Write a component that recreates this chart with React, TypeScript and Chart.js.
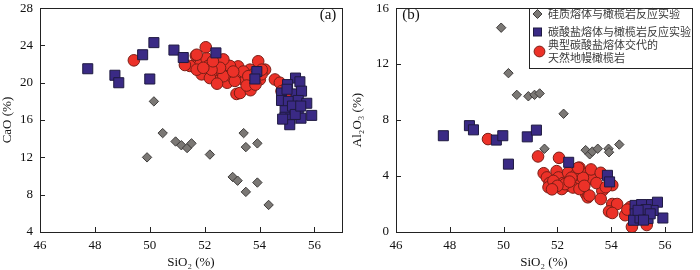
import React, { useEffect, useRef } from 'react';
import { Chart, registerables } from 'chart.js';

Chart.register(...registerables);

// ---------- Panel (a): SiO2 vs CaO ----------
const silicateA_SiO2 = [49.9, 50.15, 50.47, 50.94, 51.15, 51.36, 51.52, 52.19, 53.02, 53.2, 53.5, 53.92, 54.33, 53.42, 53.5, 53.92];
const silicateA_CaO = [12.0, 18.0, 14.6, 13.7, 13.3, 13.0, 13.5, 12.3, 9.9, 9.5, 8.3, 9.3, 6.9, 14.6, 13.1, 13.5];

const carbonatiteA_SiO2 = [47.74, 48.73, 48.87, 49.74, 50.15, 50.0, 50.88, 51.22, 52.41, 53.9, 53.83,
  55.31, 55.02, 55.47, 54.8, 55.33, 55.53, 54.8, 55.05, 55.41, 55.72, 54.93, 55.41, 55.9, 54.93, 55.11, 55.51, 55.1, 54.84, 55.2, 55.3, 55.5, 55.0];
const carbonatiteA_CaO = [21.5, 20.8, 20.0, 23.0, 24.3, 20.4, 23.5, 22.7, 23.2, 21.2, 20.4,
  20.5, 19.8, 20.1, 18.9, 18.8, 19.1, 18.1, 18.0, 18.1, 17.8, 17.0, 17.0, 16.5, 16.3, 16.1, 16.2, 15.5, 16.1, 17.5, 16.6, 17.5, 19.3];

const naturalA_SiO2 = [49.42, 52.04, 51.68, 51.58, 51.83, 52.07, 52.13, 52.01, 52.31, 52.5, 52.62, 52.8, 52.82, 52.98, 53.22, 53.29, 53.47, 53.65, 53.59, 53.95, 54.01, 54.2, 53.16, 53.29, 54.56, 54.74, 55.07, 51.46, 51.89, 52.19, 52.68, 52.92, 52.38, 53.1, 53.41, 52.68, 52.56, 52.25, 51.71, 51.95, 53.04, 53.77, 54.07, 53.59, 53.67, 53.53, 54.08, 51.28, 51.71, 52.3, 52.45, 53.85, 54.8];
const naturalA_CaO = [22.4, 23.8, 22.9, 21.8, 21.9, 22.6, 21.8, 21.1, 20.9, 20.2, 21.2, 21.9, 20.0, 20.7, 21.75, 20.7, 20.2, 21.4, 19.65, 22.3, 20.35, 21.4, 18.8, 18.9, 20.35, 20.0, 18.9, 21.8, 20.9, 20.5, 20.7, 21.8, 21.8, 20.2, 21.2, 22.5, 21.6, 21.4, 21.4, 21.6, 21.2, 20.9, 20.9, 20.7, 19.2, 19.7, 21.4, 21.9, 23.0, 22.3, 19.9, 19.8, 19.1];

// ---------- Panel (b): SiO2 vs Al2O3 ----------
const silicateB_SiO2 = [49.91, 50.18, 50.49, 50.92, 51.15, 51.34, 52.23, 51.52, 53.05, 53.2, 53.3, 53.5, 53.9, 53.92, 54.3];
const silicateB_Al2O3 = [14.6, 11.35, 9.8, 9.7, 9.8, 9.9, 8.45, 5.95, 5.85, 5.55, 5.75, 5.95, 5.95, 5.7, 6.25];

const carbonatiteB_SiO2 = [47.76, 48.73, 48.88, 49.73, 49.97, 50.88, 51.22, 50.18, 52.42, 53.86, 53.94,
  54.89, 55.13, 55.5, 55.72, 54.89, 55.19, 55.37, 54.83, 55.92, 55.56, 55.07, 55.3, 55.0, 55.45, 55.2];
const carbonatiteB_Al2O3 = [6.88, 7.6, 7.3, 6.57, 6.88, 6.8, 7.28, 4.85, 4.98, 4.05, 3.58,
  1.9, 1.96, 1.96, 2.13, 1.3, 1.19, 0.96, 0.84, 1.0, 1.54, 1.0, 1.6, 1.55, 1.3, 0.85];

const naturalB_SiO2 = [49.42, 51.28, 52.06, 51.49, 51.61, 51.71, 51.67, 51.97, 52.04, 52.22, 52.34, 52.58, 52.82, 52.82, 53.13, 53.31, 53.25, 53.61, 53.67, 53.07, 53.13, 53.61, 54.04, 54.04, 54.22, 53.92, 54.04, 54.52, 54.77, 55.32, 54.71, 52.4, 52.7, 52.95, 51.85, 52.16, 52.58, 52.82, 52.28, 52.52, 52.77, 53.19, 53.0, 52.0, 51.8, 52.45, 53.45, 53.8, 54.6];
const naturalB_Al2O3 = [6.64, 5.4, 5.3, 4.2, 3.9, 3.5, 3.2, 4.35, 3.9, 3.5, 3.3, 3.9, 4.6, 3.65, 4.23, 3.77, 4.47, 4.23, 2.95, 2.7, 2.48, 2.36, 3.35, 2.0, 2.0, 1.47, 1.36, 1.2, 0.37, 0.5, 1.78, 4.23, 4.12, 3.88, 3.65, 3.07, 3.18, 3.07, 3.42, 3.88, 4.58, 2.6, 3.3, 3.3, 3.05, 3.6, 3.5, 3.2, 1.6];

const legendLabels = ['硅质熔体与橄榄岩反应实验', '碳酸盐熔体与橄榄岩反应实验', '典型碳酸盐熔体交代的', '天然地幔橄榄岩'];
const xTitle = 'SiO₂ (%)';

const GRAY_FILL = '#7b7875';
const GRAY_EDGE = '#3e3c3b';
const BLUE_FILL = '#3a2a85';
const BLUE_EDGE = '#1f1a40';
const RED_FILL = '#ec3128';
const RED_EDGE = '#7a1e16';
const SERIF = '"Liberation Serif", "Times New Roman", serif';

const zip = (xs: number[], ys: number[]) => xs.map((x, i) => ({ x, y: ys[i] }));

const framePlugin = {
  id: 'frame',
  afterDraw(chart: any, _args: any, opts: any) {
    const { ctx, chartArea } = chart;
    const { left, right, top, bottom } = chartArea;
    ctx.save();
    ctx.strokeStyle = '#222';
    ctx.lineWidth = 1;
    ctx.strokeRect(Math.round(left) + 0.5, Math.round(top) + 0.5, Math.round(right - left), Math.round(bottom - top));
    const tl = 5;
    ctx.beginPath();
    chart.scales.x.ticks.forEach((t: any) => {
      const px = Math.round(chart.scales.x.getPixelForValue(t.value)) + 0.5;
      ctx.moveTo(px, bottom);
      ctx.lineTo(px, bottom - tl);
    });
    chart.scales.y.ticks.forEach((t: any) => {
      const py = Math.round(chart.scales.y.getPixelForValue(t.value)) + 0.5;
      ctx.moveTo(left, py);
      ctx.lineTo(left + tl, py);
    });
    ctx.stroke();
    // panel tag
    ctx.fillStyle = '#111';
    ctx.font = '15px ' + SERIF;
    ctx.textAlign = 'center';
    ctx.textBaseline = 'middle';
    ctx.fillText(opts.tag, opts.tagX, opts.tagY);

    if (opts.legend) {
      const bx = 179.5, by = Math.round(top) + 0.5, bw = Math.round(right) - 179, bh = 60;
      ctx.fillStyle = '#fff';
      ctx.fillRect(bx, by, bw, bh);
      ctx.strokeStyle = '#222';
      ctx.strokeRect(bx, by, bw, bh);
      // diamond
      ctx.lineWidth = 1;
      ctx.beginPath();
      const dx = 187.5, dy = 14;
      ctx.moveTo(dx, dy - 4.5); ctx.lineTo(dx + 4.5, dy); ctx.lineTo(dx, dy + 4.5); ctx.lineTo(dx - 4.5, dy); ctx.closePath();
      ctx.fillStyle = GRAY_FILL; ctx.fill(); ctx.strokeStyle = GRAY_EDGE; ctx.stroke();
      // square
      ctx.fillStyle = BLUE_FILL; ctx.fillRect(183.5, 28, 8, 8);
      ctx.strokeStyle = BLUE_EDGE; ctx.strokeRect(183.5, 28, 8, 8);
      // circle
      ctx.beginPath();
      ctx.arc(189.5, 51.5, 5.4, 0, Math.PI * 2);
      ctx.fillStyle = RED_FILL; ctx.fill(); ctx.strokeStyle = RED_EDGE; ctx.stroke();
      ctx.fillStyle = '#3a3a3a';
      ctx.font = '11px "Noto Sans CJK SC"';
      ctx.textAlign = 'left';
      ctx.textBaseline = 'middle';
      ctx.fillText(legendLabels[0], 198, 14);
      ctx.fillText(legendLabels[1], 198, 32);
      ctx.fillText(legendLabels[2], 198, 45);
      ctx.fillText(legendLabels[3], 198, 58);
    }
    ctx.restore();
  },
};

function buildConfig(p: any) {
  const tickFont = { family: SERIF, size: 13 };
  return {
    type: 'scatter',
    data: {
      datasets: [
        { data: p.gray, pointStyle: 'rectRot', pointRadius: 4.7, backgroundColor: GRAY_FILL, borderColor: GRAY_EDGE, borderWidth: 1 },
        { data: p.blue, pointStyle: 'rect', pointRadius: 7.1, backgroundColor: BLUE_FILL, borderColor: BLUE_EDGE, borderWidth: 1 },
        { data: p.red, pointStyle: 'circle', pointRadius: 5.8, backgroundColor: RED_FILL, borderColor: RED_EDGE, borderWidth: 1 },
      ],
    },
    options: {
      responsive: false,
      animation: false,
      devicePixelRatio: 1,
      events: [],
      layout: { padding: { left: 0, right: p.padRight, top: 4, bottom: 0 } },
      plugins: {
        legend: { display: false },
        tooltip: { enabled: false },
        frame: { tag: p.tag, tagX: p.tagX, tagY: p.tagY, legend: p.legend },
      },
      scales: {
        x: {
          type: 'linear',
          min: 46,
          max: 57,
          ticks: { stepSize: 2, padding: 6, font: tickFont, color: '#111', maxRotation: 0 },
          grid: { display: false, drawTicks: false },
          border: { display: false },
          title: { display: true, text: xTitle, font: tickFont, color: '#111', padding: 0 },
          afterBuildTicks: (s: any) => { s.ticks = s.ticks.filter((t: any) => t.value <= 56.01); },
          afterFit: (s: any) => { s.height = 38; s.paddingLeft = 0; s.paddingRight = 0; },
        },
        y: {
          type: 'linear',
          min: p.yMin,
          max: p.yMax,
          ticks: { stepSize: 4, padding: 7, font: tickFont, color: '#111' },
          grid: { display: false, drawTicks: false },
          border: { display: false },
          title: { display: true, text: p.yTitle, font: tickFont, color: '#111', padding: 0 },
          afterFit: (s: any) => { s.width = p.yWidth; s.paddingTop = 0; s.paddingBottom = 0; },
        },
      },
    },
    plugins: [framePlugin],
  };
}

function Panel(props: { cfg: any }) {
  const ref = useRef<HTMLCanvasElement>(null);
  useEffect(() => {
    if (!ref.current) return;
    const chart = new Chart(ref.current, buildConfig(props.cfg) as any);
    return () => chart.destroy();
  }, []);
  return <canvas ref={ref} width={350} height={270} style={{ display: 'block', width: 350, height: 270 }} />;
}

export default function App() {
  const cfgA = {
    gray: zip(silicateA_SiO2, silicateA_CaO),
    blue: zip(carbonatiteA_SiO2, carbonatiteA_CaO),
    red: zip(naturalA_SiO2, naturalA_CaO),
    yMin: 4, yMax: 28, yTitle: 'CaO (%)', yWidth: 40, padRight: 8,
    tag: '(a)', tagX: 328, tagY: 15, legend: false,
  };
  const cfgB = {
    gray: zip(silicateB_SiO2, silicateB_Al2O3),
    blue: zip(carbonatiteB_SiO2, carbonatiteB_Al2O3),
    red: zip(naturalB_SiO2, naturalB_Al2O3),
    yMin: 0, yMax: 16, yTitle: 'Al₂O₃ (%)', yWidth: 46, padRight: 2,
    tag: '(b)', tagX: 61, tagY: 15, legend: true,
  };
  return (
    <div style={{ position: 'absolute', left: 0, top: 0, width: 700, height: 270, display: 'flex', background: '#fff' }}>
      <Panel cfg={cfgA} />
      <Panel cfg={cfgB} />
    </div>
  );
}
